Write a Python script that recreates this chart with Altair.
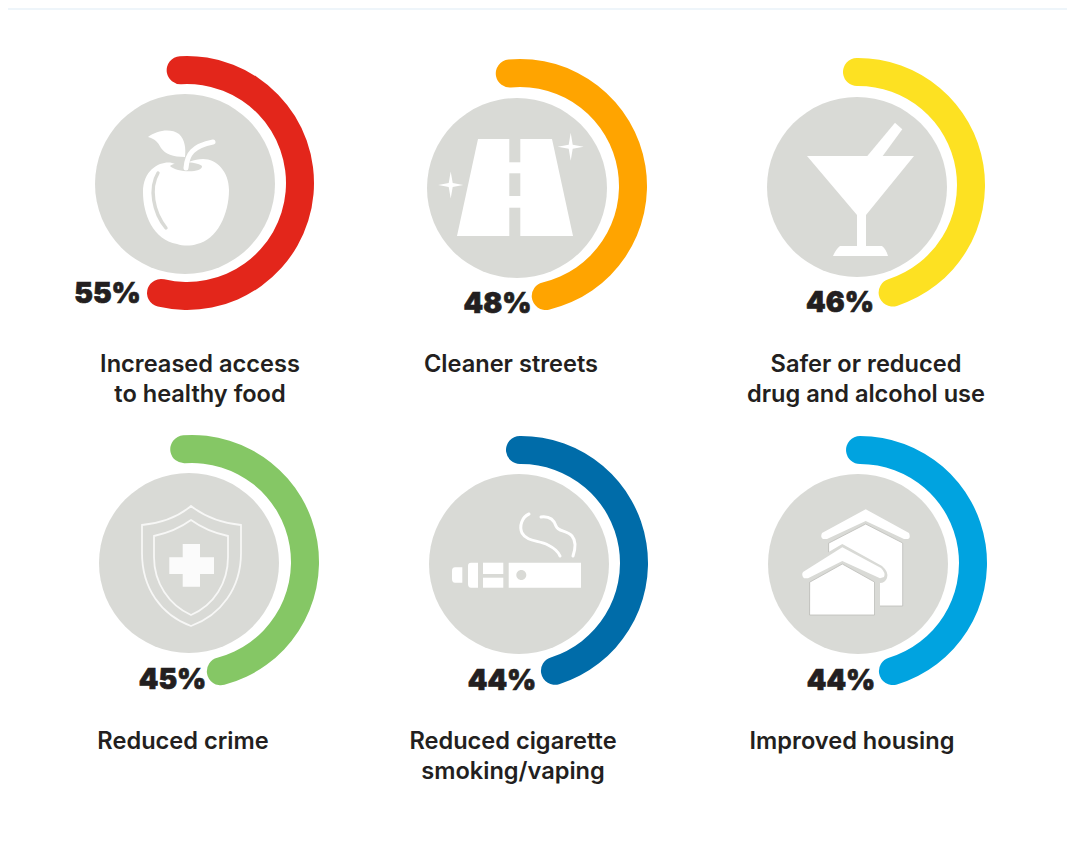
import math
import altair as alt
import pandas as pd

# ---- values
labels = [["Increased access", "to healthy food"], ["Cleaner streets"],
          ["Safer or reduced", "drug and alcohol use"], ["Reduced crime"],
          ["Reduced cigarette", "smoking/vaping"], ["Improved housing"]]
percent_text = ["55%", "48%", "46%", "45%", "44%", "44%"]
arc_share = [54.6, 47.8, 45.2, 47.0, 45.3, 45.3]          # share of the ring as drawn
arc_start = [-0.9, -1.45, -0.15, -1.1, -0.15, 0.0]        # start of the ring, same unit
colors = ["#E3261B", "#FFA400", "#FDE122", "#85C765", "#006CA9", "#00A3E0"]

# ---- layout (page pixels)
disc_x = [185, 517, 857, 189, 519, 858]
disc_y = [184, 188, 187, 563, 564, 564]
ring_x = [187, 520, 858, 192, 521, 860]
ring_y = [183, 186, 185, 562, 563, 563]
pct_x = [107.5, 497.5, 840, 172.5, 502, 841]
pct_y = [303, 313, 312, 689, 690, 690]
label_x = [200, 511, 866, 183, 513, 852]
label_y = [372, 372, 372, 749, 749, 749]

TEXT = "#231F20"
DISC = "#D9DAD6"
W = "#FFFFFF"
CAP = 1.97

def rect(x0, x1, y0, y1):
    return f"M{x0},{y0} L{x1},{y0} L{x1},{y1} L{x0},{y1} Z"

def star(x, y, a, b):
    return (f"M{x},{y-b} L{x+2},{y-2} L{x+a},{y} L{x+2},{y+2} L{x},{y+b} "
            f"L{x-2},{y+2} L{x-a},{y} L{x-2},{y-2} Z")

def disc(x, y, r):
    return f"M{x-r},{y} A{r},{r} 0 1 1 {x+r},{y} A{r},{r} 0 1 1 {x-r},{y} Z"

NO = "transparent"
# each icon: (path, fill, stroke, strokeWidth) in pixels from the disc centre
icons = [
    [  # apple
        ("M-10,-20 C-18,-25 -42,-19 -42,8 C-42,30 -32,56 -8,60 C-2,62 6,62 12,60 C32,56 44,30 44,6 C44,-12 32,-25 18,-25 C8,-25 0,-19 -10,-20 Z", W, NO, 0),
        ("M-15,-18 C-8,-11 18,-11 17,-18 C10,-23 -8,-23 -15,-18 Z", DISC, NO, 0),
        ("M-27,-11 C-36,4 -32,28 -19,44", NO, DISC, 3.4),
        ("M-37,-47 C-28,-54 -14,-56 -6,-50 C0,-44 1,-36 0,-27 C-12,-27 -20,-30 -24,-36 C-27,-42 -30,-45 -37,-47 Z", W, NO, 0),
        ("M1,-16 C2,-30 8,-38 28,-42", NO, W, 5),
    ],
    [  # road
        ("M-39,-49 L35,-49 L56,48 L-60,48 Z", W, NO, 0),
        (rect(-7.7, 3.3, -49, -25.7), DISC, NO, 0),
        (rect(-7.7, 3.3, -14.7, 8), DISC, NO, 0),
        (rect(-7.7, 3.3, 19.7, 48), DISC, NO, 0),
        (star(53.7, -41.3, 13, 14), W, NO, 0),
        (star(-66.3, -3, 12.5, 13.5), W, NO, 0),
    ],
    [  # martini
        ("M-50,-31 L57,-31 L9,28 L9,59 L25,59 Q29,62 31,69 L-24,69 Q-21,62 -17,59 L0,59 L0,28 Z", W, NO, 0),
        ("M38,-64.3 L45.3,-57.7 L25.7,-31 L10.3,-31 Z", W, NO, 0),
    ],
    [  # shield
        ("M2,-57 C16,-46 32,-40 52,-38 L52,-10 C52,25 32,52 2,63 C-28,52 -47,25 -47,-10 L-47,-38 C-27,-40 -11,-46 2,-57 Z", NO, "#F7F7F6", 1.8),
        ("M2,-43 C13,-35 25,-30 39,-27 L39,-6 C39,20 25,42 2,52 C-20,42 -35,20 -35,-6 L-35,-27 C-21,-30 -9,-35 2,-43 Z", NO, "#F7F7F6", 1.8),
        ("M-6.3,-19 L11,-19 L11,-5.7 L25,-5.7 L25,11 L11,11 L11,23.7 L-6.3,23.7 L-6.3,11 L-19.7,11 L-19.7,-5.7 L-6.3,-5.7 Z", "#FBFBFB", NO, 0),
    ],
    [  # vape
        (rect(-10.3, 62, -1.3, 23.7), W, NO, 0),
        (disc(2.3, 11, 5), DISC, NO, 0),
        (rect(-36, -15.7, -1.3, 10), W, NO, 0),
        (rect(-36, -15.7, 13.7, 23.7), W, NO, 0),
        ("M-48,-1.3 L-41,-1.3 L-41,23.7 L-48,23.7 Q-51,23.7 -51,20 L-51,2 Q-51,-1.3 -48,-1.3 Z", W, NO, 0),
        ("M-64,3.3 L-56.7,3.3 L-56.7,18.7 L-64,18.7 Q-67,18.7 -67,15 L-67,7 Q-67,3.3 -64,3.3 Z", W, NO, 0),
        ("M10,-50 C3,-47 0,-38 3,-31 C8,-22 20,-24 29,-19 C35,-16 39,-13 41,-8", NO, W, 3),
        ("M22,-47 C30,-48 35,-44 37,-38 C39,-32 48,-34 53,-28 C58,-22 56,-14 54,-8", NO, W, 3),
    ],
    [  # houses
        ("M-29,-21 L7.7,-40 L44.7,-21 L44.7,42 L-29,42 Z", W, "#BDBDB9", 0.8),
        ("M7.7,-54.7 L51,-31 Q53,-26 50,-25 L46,-25 L7.7,-43 L-31,-25 L-35,-25 Q-38,-27 -36,-31 Z", W, NO, 0),
        ("M-15.7,-20 L24,2 Q31,8 29,14 Q27,19 22,19 L22,56 L-60,56 L-60,6 Z", DISC, NO, 0),
        ("M-15.7,-16.7 L23,4 Q28,9 26,13 L22,14.3 L-15.7,-3 L-50,14.3 L-54,14.3 Q-57,11 -55,8 Z", W, NO, 0),
        ("M-48,18 L-15.7,0 L16.5,18 L16.5,51 L-48,51 Z", W, "#BDBDB9", 0.8),
    ],
]

# ---- tables built from the lists above
rings = pd.DataFrame({"x": ring_x, "y": ring_y, "start": arc_start, "share": arc_share, "color": colors})
discs = pd.DataFrame({"x": disc_x, "y": disc_y})
pcts = pd.DataFrame({"x": pct_x, "y": pct_y, "t": percent_text})
label_rows = [
    {"x": label_x[i], "y": label_y[i] + 30 * j, "t": line}
    for i, lines in enumerate(labels) for j, line in enumerate(lines)
]
icon_rows = [
    {"x": disc_x[i], "y": disc_y[i], "path": p[0], "fill": p[1], "stroke": p[2], "sw": p[3]}
    for i, parts in enumerate(icons) for p in parts
]

xs = alt.Scale(domain=[8, 1067])
ys = alt.Scale(domain=[828, 8])
X = alt.X("x:Q", scale=xs, axis=None)
Y = alt.Y("y:Q", scale=ys, axis=None)

strip = alt.Chart(pd.DataFrame({"a": [0]})).mark_rect(color="#EEF5FA").encode(
    x=alt.value(0), x2=alt.value(1059), y=alt.value(0), y2=alt.value(2))

disc_layer = alt.Chart(discs).mark_circle(color=DISC, opacity=1, size=180 ** 2).encode(x=X, y=Y)

icon_layer = alt.Chart(pd.DataFrame(icon_rows)).mark_point(filled=True, opacity=1, strokeCap="round", size=4).encode(
    x=X, y=Y,
    shape=alt.Shape("path:N", scale=None),
    fill=alt.Fill("fill:N", scale=None),
    stroke=alt.Stroke("stroke:N", scale=None),
    strokeWidth=alt.StrokeWidth("sw:Q", scale=None),
)

ring_layer = alt.Chart(rings).transform_calculate(
    a=f"datum.start - {CAP}", b=f"datum.start + datum.share + {CAP}"
).mark_arc(innerRadius=99, outerRadius=127, cornerRadius=14).encode(
    x=X, y=Y,
    theta=alt.Theta("a:Q", stack=None, scale=alt.Scale(domain=[0, 100], range=[0, 2 * math.pi])),
    theta2=alt.Theta2("b:Q"),
    color=alt.Color("color:N", scale=None),
)

pct_layer = alt.Chart(pcts).mark_text(
    font="Inter", fontWeight=900, fontSize=28, color=TEXT, stroke=TEXT, strokeWidth=0.7,
    align="center", baseline="alphabetic"
).encode(x=X, y=Y, text="t:N")

label_layer = alt.Chart(pd.DataFrame(label_rows)).mark_text(
    font="Inter", fontWeight=600, fontSize=23.6, color=TEXT, align="center", baseline="alphabetic"
).encode(x=X, y=Y, text="t:N")

chart = alt.layer(strip, disc_layer, icon_layer, ring_layer, pct_layer, label_layer).properties(
    width=1059, height=820, padding=0, autosize=alt.AutoSizeParams(type="none"),
    background="#FFFFFF",
).configure_view(stroke=None)

chart.save("out.html", embed_options={"renderer": "svg", "actions": False})
